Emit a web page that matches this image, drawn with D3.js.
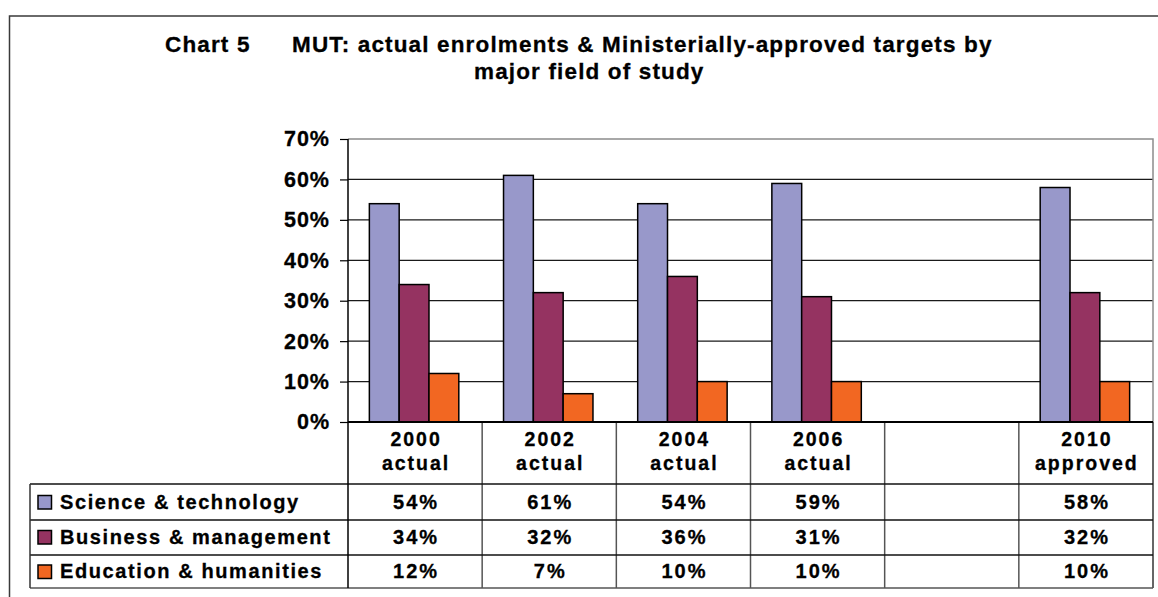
<!DOCTYPE html>
<html>
<head>
<meta charset="utf-8">
<script src="https://cdn.jsdelivr.net/npm/d3@7"></script>
<style>
  html, body { margin: 0; padding: 0; background: #fff; }
  svg { display: block; }
  text { font-family: "Liberation Sans", Arial, sans-serif; font-weight: bold; fill: #000; stroke: #000; stroke-width: 0.3px; }
</style>
</head>
<body>
<svg id="chart" width="1158" height="597"></svg>
<script>
// Categories (the fifth column is intentionally blank) and series shares in percent
const categories = ["2000 actual", "2002 actual", "2004 actual", "2006 actual", "", "2010 approved"];
const seriesNames = ["Science & technology", "Business & management", "Education & humanities"];
const scienceTech = [54, 61, 54, 59, null, 58];
const businessMgmt = [34, 32, 36, 31, null, 32];
const educationHum = [12, 7, 10, 10, null, 10];
const yTicks = [0, 10, 20, 30, 40, 50, 60, 70];
const seriesColors = ["#9898CA", "#953361", "#F26722"];

const series = [scienceTech, businessMgmt, educationHum];

const svg = d3.select("#chart");

// Outer chart frame (runs off the right and bottom edges)
svg.append("rect")
  .attr("x", 9.5).attr("y", 16)
  .attr("width", 1170).attr("height", 600)
  .attr("fill", "none").attr("stroke", "#3a3a3a").attr("stroke-width", 1.5);

// Title
const titleG = svg.append("g").style("font-size", "22.5px").style("letter-spacing", "1.15px");
titleG.append("text").attr("x", 165).attr("y", 52).text("Chart 5");
titleG.append("text").attr("x", 292).attr("y", 52)
  .text("MUT: actual enrolments & Ministerially-approved targets by");
titleG.append("text").attr("x", 474).attr("y", 78.5).text("major field of study");

// Plot geometry
const plotLeft = 348, plotRight = 1153, plotTop = 139, plotBottom = 422;
const tableLeft = 30;
const rowLines = [484, 520, 555, 588];

const x = d3.scaleBand()
  .domain(categories.map((d, i) => i))
  .range([plotLeft, plotRight])
  .padding(0);

// Excel-style gap width 150% within each category
const xInner = d3.scaleBand()
  .domain(d3.range(series.length))
  .range([0, x.bandwidth()])
  .paddingInner(0)
  .paddingOuter(0.75);

const y = d3.scaleLinear().domain([0, 70]).range([plotBottom, plotTop]);

// Gridlines
svg.append("g")
  .selectAll("line")
  .data(yTicks.filter(t => t > 0 && t < 70))
  .join("line")
  .attr("x1", plotLeft).attr("x2", plotRight)
  .attr("y1", d => y(d)).attr("y2", d => y(d))
  .attr("stroke", "#1a1a1a").attr("stroke-width", 1.2);

// Plot area border (top and right)
svg.append("path")
  .attr("d", `M${plotLeft},${y(70)}H${plotRight}V${plotBottom}`)
  .attr("fill", "none").attr("stroke", "#8c8c8c").attr("stroke-width", 1.5);

// Y axis
const yAxis = d3.axisLeft(y)
  .tickValues(yTicks)
  .tickFormat(d => d + "%")
  .tickSize(8)
  .tickPadding(10);

const yAxisG = svg.append("g")
  .attr("transform", `translate(${plotLeft},0)`)
  .call(yAxis);
yAxisG.select(".domain").remove();
yAxisG.selectAll(".tick line").attr("stroke", "#000").attr("stroke-width", 1.2);
yAxisG.selectAll(".tick text")
  .style("font-family", "'Liberation Sans', Arial, sans-serif")
  .style("font-weight", "bold")
  .style("font-size", "21.5px")
  .style("letter-spacing", "1px")
  .attr("fill", "#000");

// Bars
const barsG = svg.append("g");
categories.forEach((cat, ci) => {
  series.forEach((vals, si) => {
    const v = vals[ci];
    if (v == null) return;
    barsG.append("rect")
      .attr("x", x(ci) + xInner(si) - 1)
      .attr("y", y(v))
      .attr("width", xInner.bandwidth())
      .attr("height", y(0) - y(v))
      .attr("fill", seriesColors[si])
      .attr("stroke", "#000")
      .attr("stroke-width", 1.5);
  });
});

// Data table grid
const tableG = svg.append("g");
// column separators
tableG.selectAll("line.col")
  .data(categories.map((d, i) => i).slice(1))
  .join("line")
  .attr("class", "col")
  .attr("x1", d => x(d)).attr("x2", d => x(d))
  .attr("y1", plotBottom).attr("y2", rowLines[rowLines.length - 1])
  .attr("stroke", "#555").attr("stroke-width", 1.5);
// right edge
tableG.append("line")
  .attr("x1", plotRight).attr("x2", plotRight)
  .attr("y1", plotBottom).attr("y2", rowLines[rowLines.length - 1])
  .attr("stroke", "#333").attr("stroke-width", 1.5);
// horizontal rules
tableG.selectAll("line.row")
  .data(rowLines)
  .join("line")
  .attr("class", "row")
  .attr("x1", tableLeft).attr("x2", plotRight)
  .attr("y1", d => d).attr("y2", d => d)
  .attr("stroke", (d, i) => i === rowLines.length - 1 ? "#555" : "#111")
  .attr("stroke-width", 1.5);
// left edge of legend block
tableG.append("line")
  .attr("x1", tableLeft).attr("x2", tableLeft)
  .attr("y1", rowLines[0]).attr("y2", rowLines[rowLines.length - 1])
  .attr("stroke", "#333").attr("stroke-width", 1.5);
// value axis line continuing through the table
tableG.append("line")
  .attr("x1", plotLeft).attr("x2", plotLeft)
  .attr("y1", plotTop).attr("y2", rowLines[rowLines.length - 1])
  .attr("stroke", "#000").attr("stroke-width", 1.5);
// category axis line
tableG.append("line")
  .attr("x1", plotLeft).attr("x2", plotRight)
  .attr("y1", plotBottom).attr("y2", plotBottom)
  .attr("stroke", "#000").attr("stroke-width", 2);

// Category headers (two lines each)
const headG = svg.append("g").style("font-size", "19.5px").style("letter-spacing", "2px");
categories.forEach((cat, ci) => {
  if (!cat) return;
  const parts = cat.split(" ");
  const cx = x(ci) + x.bandwidth() / 2 + 1;
  headG.append("text").attr("x", cx).attr("y", 446).attr("text-anchor", "middle").text(parts[0]);
  headG.append("text").attr("x", cx).attr("y", 470).attr("text-anchor", "middle").text(parts[1]);
});

// Legend keys and values
const rowBaselines = [509, 544, 578];
const rowMid = [502, 537, 571.5];
const legG = svg.append("g").style("font-size", "20px").style("letter-spacing", "1.6px");
seriesNames.forEach((name, si) => {
  legG.append("rect")
    .attr("x", 38).attr("y", rowMid[si] - 6.5)
    .attr("width", 13.5).attr("height", 13.5)
    .attr("fill", seriesColors[si])
    .attr("stroke", "#000").attr("stroke-width", 1.5);
  legG.append("text").attr("x", 60).attr("y", rowBaselines[si]).text(name);
  series[si].forEach((v, ci) => {
    if (v == null) return;
    legG.append("text")
      .attr("x", x(ci) + x.bandwidth() / 2 + 1)
      .attr("y", rowBaselines[si])
      .attr("text-anchor", "middle")
      .style("letter-spacing", "2px")
      .text(v + "%");
  });
});
</script>
</body>
</html>
